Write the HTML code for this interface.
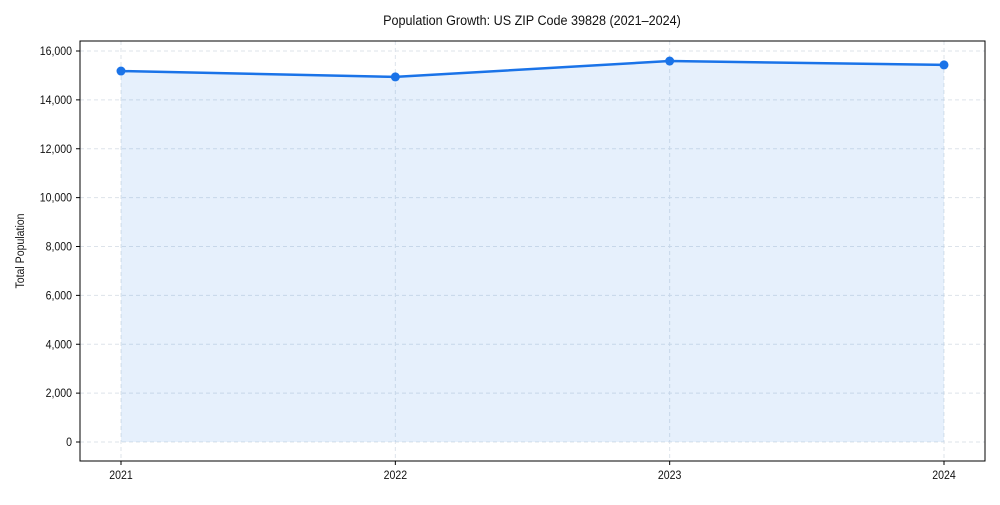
<!DOCTYPE html>
<html><head><meta charset="utf-8"><style>
body{margin:0;background:#fff;font-family:"Liberation Sans",sans-serif}
</style></head><body>
<svg width="1000" height="500" viewBox="0 0 1000 500" xmlns="http://www.w3.org/2000/svg">
<text transform="translate(532,25) scale(0.9,1)" text-anchor="middle" font-size="14" fill="#111">Population Growth: US ZIP Code 39828 (2021–2024)</text>
<text transform="translate(24,251) rotate(-90) scale(0.88,1)" text-anchor="middle" font-size="12" fill="#111">Total Population</text>
<g id="grid"></g><g id="area"></g><g id="line"></g><g id="axes"></g>
<rect x="80" y="41" width="905" height="420" fill="none" stroke="#000" stroke-width="1"/>
</svg>
<script>
const years=["2021","2022","2023","2024"];
const population=[15180,14940,15590,15430];
const yTicks=[0,2000,4000,6000,8000,10000,12000,14000,16000];
const ns="http://www.w3.org/2000/svg";
const xS=i=>121+i*(944-121)/(years.length-1);
const yS=v=>442-v*(442-51)/16000;
function mk(t,a,p){const e=document.createElementNS(ns,t);for(const k in a)e.setAttribute(k,a[k]);p.appendChild(e);return e;}
const grid=document.getElementById('grid'),axes=document.getElementById('axes');
yTicks.forEach(v=>{
 const g=mk('line',{x1:80,x2:985,y1:yS(v),y2:yS(v),stroke:'#dde3ea','stroke-dasharray':'4,3'},grid);
 
 
 mk('line',{x1:76,x2:80,y1:yS(v),y2:yS(v),stroke:'#000'},axes);
 const t=mk('text',{transform:'translate(72,'+(yS(v)+4)+') scale(0.88,1)','text-anchor':'end','font-size':'12',fill:'#111'},axes);
 t.textContent=v.toLocaleString('en-US');
 
 
});
years.forEach((y,i)=>{
 const g=mk('line',{x1:xS(i),x2:xS(i),y1:41,y2:461,stroke:'#dde3ea','stroke-dasharray':'4,3'},grid);
 
 
 mk('line',{x1:xS(i),x2:xS(i),y1:461,y2:465,stroke:'#000'},axes);
 const t=mk('text',{transform:'translate('+xS(i)+',479) scale(0.88,1)','text-anchor':'middle','font-size':'12',fill:'#111'},axes);
 t.textContent=y;
 
 
});
let pts=population.map((v,i)=>xS(i)+','+yS(v));
const ar=mk('polygon',{points:pts.join(' ')+' '+xS(years.length-1)+','+yS(0)+' '+xS(0)+','+yS(0),fill:'#1a73e8','fill-opacity':'0.11'},document.getElementById('area'));


const ln=mk('polyline',{points:pts.join(' '),fill:'none',stroke:'#1a73e8','stroke-width':'2.5'},document.getElementById('line'));


population.forEach((v,i)=>{
 const c=mk('circle',{cx:xS(i),cy:yS(v),r:4.5,fill:'#1a73e8'},document.getElementById('line'));
 
 
});
</script>
</body></html>
